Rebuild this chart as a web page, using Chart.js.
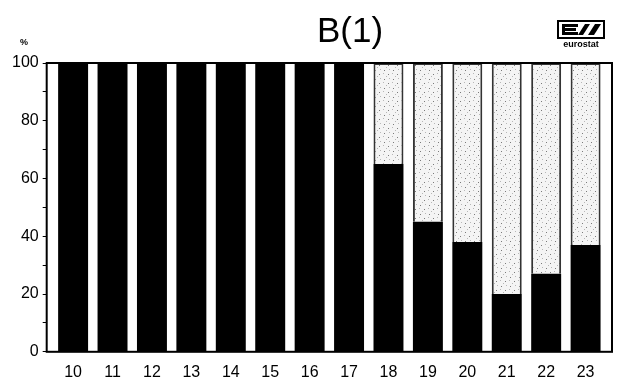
<!DOCTYPE html>
<html>
<head>
<meta charset="utf-8">
<script src="https://cdn.jsdelivr.net/npm/chart.js@4"></script>
<style>
  html, body { margin: 0; padding: 0; background: #fff; }
  #wrap { width: 621px; height: 383px; }
</style>
</head>
<body>
<div id="wrap"><canvas id="myChart"></canvas></div>
<script>
// data
const categories = [10, 11, 12, 13, 14, 15, 16, 17, 18, 19, 20, 21, 22, 23];
const darkShare  = [100, 100, 100, 100, 100, 100, 100, 100, 65, 45, 38, 20, 27, 37];
const lightShare = [0, 0, 0, 0, 0, 0, 0, 0, 35, 55, 62, 80, 73, 63];
const yTicks = [0, 20, 40, 60, 80, 100];

const ctx = document.getElementById('myChart').getContext('2d');

// stippled light grey fill for the upper part of the bars
function stipple() {
    const c = document.createElement('canvas');
    c.width = 9; c.height = 9;
    const g = c.getContext('2d');
    g.fillStyle = '#f4f4f4';
    g.fillRect(0, 0, 9, 9);
    g.fillStyle = '#7a7a7a';
    g.fillRect(1, 2, 1, 1);
    g.fillRect(6, 7, 1, 1);
    g.fillStyle = '#b8b8b8';
    g.fillRect(5, 1, 1, 1);
    g.fillRect(2, 6, 1, 1);
    g.fillRect(8, 4, 1, 1);
    return ctx.createPattern(c, 'repeat');
}

// frame, title, % label and eurostat logo
const decor = {
    id: 'decor',
    afterDraw(chart) {
        const c = chart.ctx;
        const a = chart.chartArea;
        c.save();
        c.strokeStyle = '#000';
        c.lineWidth = 2;
        c.strokeRect(a.left, a.top, a.right - a.left, a.bottom - a.top);

        c.fillStyle = '#000';
        c.font = '35px "Liberation Sans", Arial, sans-serif';
        c.textAlign = 'center';
        c.textBaseline = 'alphabetic';
        c.fillText('B(1)', 350, 42);

        c.font = 'bold 9px "Liberation Sans", Arial, sans-serif';
        c.fillText('%', 24, 45);

        // logo
        c.lineWidth = 2;
        c.strokeRect(558, 21, 46, 17);
        c.fillRect(562, 24, 3, 11);
        c.fillRect(562, 24, 16, 3);
        c.fillRect(562, 28, 14, 3);
        c.fillRect(562, 32, 16, 3);
        c.beginPath();
        c.moveTo(585, 24); c.lineTo(590, 24); c.lineTo(583, 35); c.lineTo(578, 35);
        c.closePath(); c.fill();
        c.beginPath();
        c.moveTo(595, 24); c.lineTo(601, 24); c.lineTo(594, 35); c.lineTo(588, 35);
        c.closePath(); c.fill();
        c.font = 'bold 9px "Liberation Sans", Arial, sans-serif';
        c.fillText('eurostat', 581, 47);
        c.restore();
    }
};

const chart = new Chart(ctx, {
    type: 'bar',
    data: {
        datasets: [{
            label: 'dark',
            data: categories.map((x, i) => ({x: x, y: darkShare[i]})),
            backgroundColor: '#000',
            borderWidth: 0,
            barPercentage: 0.76,
            categoryPercentage: 1
        }, {
            label: 'light',
            data: categories.map((x, i) => ({x: x, y: lightShare[i]})),
            backgroundColor: stipple(),
            borderColor: '#333',
            borderWidth: 2,
            barPercentage: 0.76,
            categoryPercentage: 1
        }]
    },
    options: {
        responsive: true,
        maintainAspectRatio: false,
        animation: false,
        layout: { padding: { left: 8, right: 9, top: 63, bottom: 0 } },
        plugins: {
            legend: { display: false },
            title: { display: false },
            tooltip: { enabled: false }
        },
        scales: {
            x: {
                type: 'linear',
                stacked: true,
                offset: false,
                min: 9.33,
                max: 23.67,
                afterBuildTicks: s => { s.ticks = categories.map(v => ({value: v})); },
                grid: { display: false, drawTicks: true, tickLength: 10 },
                border: { display: false },
                ticks: {
                    color: '#000',
                    padding: 1,
                    maxRotation: 0,
                    autoSkip: false,
                    font: { family: '"Liberation Sans", Arial, sans-serif', size: 16 },
                    callback: v => String(v)
                }
            },
            y: {
                stacked: true,
                min: 0,
                max: 100,
                grid: {
                    drawOnChartArea: false,
                    color: '#000',
                    tickLength: 4
                },
                border: { display: false },
                ticks: {
                    stepSize: 10,
                    color: '#000',
                    padding: 4,
                    font: { family: '"Liberation Sans", Arial, sans-serif', size: 16 },
                    callback: v => yTicks.includes(v) ? String(v) : ''
                }
            }
        }
    },
    plugins: [decor]
});
</script>
</body>
</html>
